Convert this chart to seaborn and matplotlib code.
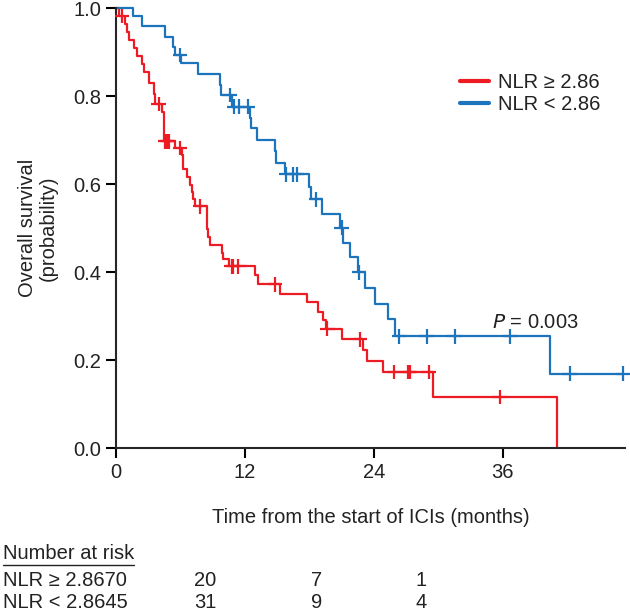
import matplotlib
matplotlib.use("Agg")
import matplotlib.pyplot as plt
import matplotlib.transforms as mtransforms
from matplotlib.lines import Line2D
import numpy as np
import pandas as pd
import seaborn as sns

# groups
groups = ["NLR ≥ 2.86", "NLR < 2.86"]
colors = ["#ED1C24", "#1C75BC"]

# NLR >= 2.86 : event times (months) and survival after each event
high_times = [0.25, 0.87, 1.02, 1.18, 1.65, 1.95, 2.42, 2.58, 3.04, 3.5,
              3.66, 4.28, 4.44, 5.45, 6.11, 6.26, 6.58, 6.88, 7.04, 7.19,
              7.35, 8.44, 8.59, 8.74, 9.83, 9.98, 10.5, 12.93, 13.24, 15.26,
              17.74, 18.82, 19.28, 19.53, 21.0, 23.0, 23.32, 24.8, 29.5, 41.05]
high_surv = [0.982, 0.964, 0.946, 0.928, 0.91, 0.892, 0.873, 0.855, 0.83, 0.805,
             0.782, 0.764, 0.697, 0.682, 0.666, 0.633, 0.615, 0.598, 0.581, 0.565,
             0.549, 0.497, 0.479, 0.462, 0.444, 0.429, 0.413, 0.393, 0.372, 0.351,
             0.331, 0.31, 0.29, 0.271, 0.247, 0.223, 0.197, 0.173, 0.116, 0.0]
high_censor = [0.56, 3.97, 4.59, 4.74, 4.95, 5.98, 7.81, 10.76, 10.9, 11.4,
               14.79, 19.66, 22.7, 25.9, 27.2, 27.35, 29.1, 35.7]

# NLR < 2.86
low_times = [1.55, 2.42, 4.55, 5.3, 5.5, 6.08, 7.62, 9.67, 9.8, 10.76,
             12.47, 12.6, 13.1, 14.79, 14.9, 15.72, 17.98, 18.1, 19.13, 20.84,
             21.14, 21.77, 22.54, 23.2, 24.1, 25.3, 25.95, 40.37]
low_surv = [0.981, 0.958, 0.935, 0.912, 0.893, 0.874, 0.849, 0.826, 0.802, 0.776,
            0.751, 0.727, 0.70, 0.674, 0.648, 0.622, 0.594, 0.565, 0.532, 0.501,
            0.467, 0.434, 0.399, 0.363, 0.327, 0.293, 0.254, 0.169]
low_censor = [5.95, 10.6, 10.98, 11.44, 12.3, 15.85, 16.5, 16.8, 18.6, 21.0,
              22.6, 26.35, 28.9, 31.5, 36.65, 42.2, 47.2]

# number at risk table
risk_labels = ["NLR ≥ 2.8670", "NLR < 2.8645"]
risk_high = [20, 7, 1]
risk_low = [31, 9, 4]
risk_cols = [8.3, 18.7, 28.4]

x_ticks = [0, 12, 24, 36]
y_ticks = [0.0, 0.2, 0.4, 0.6, 0.8, 1.0]
p_value = "0.003"

FS = 14.5


def step_at(times, surv, t):
    i = np.searchsorted(times, t, side="right") - 1
    return 1.0 if i < 0 else surv[i]


sns.set_style("ticks")
plt.rcParams["font.family"] = ["Liberation Sans", "DejaVu Sans"]
plt.rcParams["font.size"] = FS

fig = plt.figure(figsize=(6.3, 6.16), dpi=100)
ax = fig.add_axes([0.184, 0.2727, 0.808, 0.7143])

curves = []
marks = []
series = [(groups[0], high_times, high_surv, high_censor),
          (groups[1], low_times, low_surv, low_censor)]
for name, tt, ss, cc in series:
    t = [0.0] + list(tt)
    s = [1.0] + list(ss)
    end = max(max(tt), max(cc))
    if end > t[-1]:
        t.append(end)
        s.append(s[-1])
    curves.append(pd.DataFrame({"time": t, "surv": s, "group": name}))
    marks.append(pd.DataFrame({"time": cc,
                               "surv": [step_at(tt, ss, c) for c in cc],
                               "group": name}))
curves = pd.concat(curves, ignore_index=True)
marks = pd.concat(marks, ignore_index=True)

pal = dict(zip(groups, colors))
sns.lineplot(data=curves, x="time", y="surv", hue="group", palette=pal,
             drawstyle="steps-post", estimator=None, sort=False,
             linewidth=1.6, ax=ax, clip_on=False)
sns.scatterplot(data=marks, x="time", y="surv", hue="group", palette=pal,
                marker="+", s=110, linewidth=1.6, legend=False, ax=ax,
                clip_on=False, zorder=3)

ax.set_xlim(0, 47.35)
ax.set_ylim(0, 1.0)
ax.set_xticks(x_ticks)
ax.set_yticks(y_ticks)
ax.set_yticklabels([f"{v:.1f}" for v in y_ticks])
sns.despine(ax=ax)
for sp in ["left", "bottom"]:
    ax.spines[sp].set_linewidth(1.5)
ax.tick_params(width=1.5, length=7, labelsize=FS, color="black",
               labelcolor="#222222")

ax.set_xlabel("Time from the start of ICIs (months)", fontsize=FS,
              color="#222222")
ax.xaxis.set_label_coords(0.5, -0.137)
ax.set_ylabel("Overall survival\n(probability)", fontsize=FS,
              color="#222222", linespacing=1.1)
ax.yaxis.set_label_coords(-0.115, 0.5)

leg = ax.legend(loc="upper left", bbox_to_anchor=(0.66, 0.87), frameon=False,
                handlelength=1.45, handletextpad=0.45, labelspacing=0.12,
                fontsize=FS, borderaxespad=0)
for h in leg.get_lines():
    h.set_linewidth(3)
for txt in leg.get_texts():
    txt.set_color("#222222")

ax.text(35.0, 0.285, f"$P$ = {p_value}", fontsize=FS, ha="left",
        va="center", color="#222222")

# number at risk table
head = fig.text(0.004, 0.101, "Number at risk", fontsize=FS, color="#222222",
                va="center", ha="left")
row_y = [0.058, 0.022]
trans = mtransforms.blended_transform_factory(ax.transData, fig.transFigure)
for lab, vals, yy in zip(risk_labels, [risk_high, risk_low], row_y):
    fig.text(0.004, yy, lab, fontsize=FS, color="#222222", va="center",
             ha="left")
    for xc, v in zip(risk_cols, vals):
        ax.text(xc, yy, str(v), transform=trans, fontsize=FS,
                color="#222222", ha="center", va="center", clip_on=False)

fig.canvas.draw()
bb = head.get_window_extent().transformed(fig.transFigure.inverted())
fig.add_artist(Line2D([bb.x0, bb.x1], [bb.y0 - 0.003, bb.y0 - 0.003],
                      color="#222222", linewidth=1.0,
                      transform=fig.transFigure))

fig.savefig("out.png", dpi=100)
